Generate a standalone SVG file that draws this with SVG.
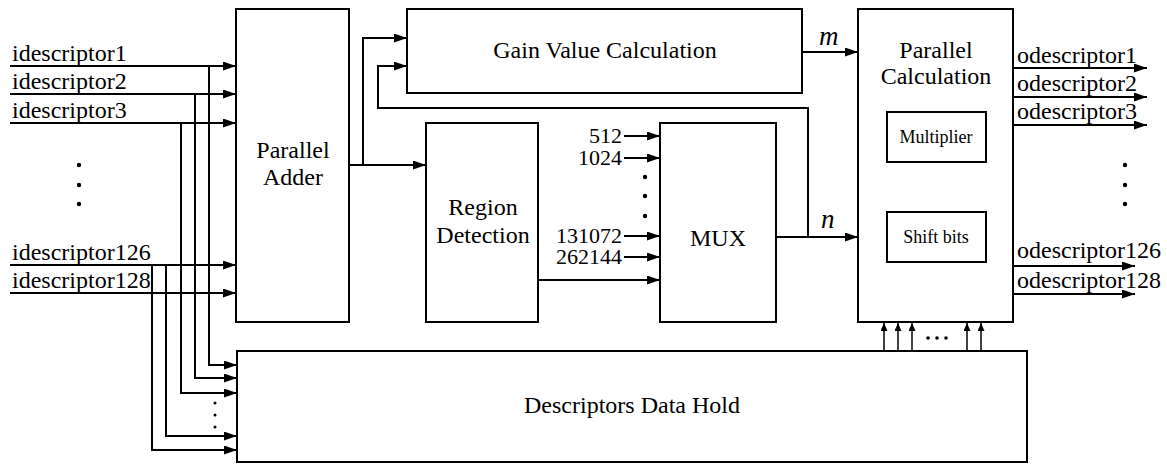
<svg xmlns="http://www.w3.org/2000/svg" width="1167" height="464" viewBox="0 0 1167 464">
  <style>
    text { font-family: "Liberation Serif", "Times New Roman", serif; fill: #000; }
    .lbl { font-family: "Liberation Serif", "Times New Roman", serif; font-size: 24px; }
    .num { font-family: "Liberation Serif", "Times New Roman", serif; font-size: 22px; }
    .mid { text-anchor: middle; }
    .end { text-anchor: end; }
    .small { font-family: "Liberation Serif", "Times New Roman", serif; font-size: 18px; }
    .var { font-family: "Liberation Serif", "Times New Roman", serif; font-size: 27px; font-style: italic; }
    .box { fill: #fff; stroke: #000; stroke-width: 2; }
    .wire { fill: none; stroke: #000; stroke-width: 2; }
    .thin { fill: none; stroke: #000; stroke-width: 1.5; }
  </style>
  <defs>
    <marker id="arr" markerUnits="userSpaceOnUse" markerWidth="13" markerHeight="9" refX="13" refY="4.5" orient="auto">
      <path d="M0,0 L13,4.5 L0,9 z" fill="#000"/>
    </marker>
    <marker id="arrS" markerUnits="userSpaceOnUse" markerWidth="8" markerHeight="8" refX="8" refY="3.5" orient="auto">
      <path d="M0,0 L8,3.5 L0,7 z" fill="#000"/>
    </marker>
  </defs>

  <rect width="1167" height="464" fill="#fff"/>

  <!-- connectors -->
  <g id="connectors">
    <!-- inputs into the adder -->
    <line class="wire" x1="10" y1="66" x2="236" y2="66" marker-end="url(#arr)"/>
    <line class="wire" x1="10" y1="94" x2="236" y2="94" marker-end="url(#arr)"/>
    <line class="wire" x1="10" y1="123" x2="236" y2="123" marker-end="url(#arr)"/>
    <line class="wire" x1="10" y1="265" x2="236" y2="265" marker-end="url(#arr)"/>
    <line class="wire" x1="10" y1="293" x2="236" y2="293" marker-end="url(#arr)"/>
    <!-- taps down to the data hold -->
    <polyline class="wire" points="209,66 209,365 237,365" marker-end="url(#arr)"/>
    <polyline class="wire" points="195,94 195,378 237,378" marker-end="url(#arr)"/>
    <polyline class="wire" points="181,123 181,393 237,393" marker-end="url(#arr)"/>
    <polyline class="wire" points="166,265 166,436 237,436" marker-end="url(#arr)"/>
    <polyline class="wire" points="152,265 152,450 237,450" marker-end="url(#arr)"/>
    <!-- adder output -->
    <line class="wire" x1="349" y1="165" x2="426" y2="165" marker-end="url(#arr)"/>
    <polyline class="wire" points="363,165 363,38 407,38" marker-end="url(#arr)"/>
    <!-- n fed back to gain calculation -->
    <polyline class="wire" points="808,237 808,108 378,108 378,66 407,66" marker-end="url(#arr)"/>
    <!-- MUX constant inputs -->
    <line class="wire" x1="624" y1="136" x2="660" y2="136" marker-end="url(#arr)"/>
    <line class="wire" x1="624" y1="158" x2="660" y2="158" marker-end="url(#arr)"/>
    <line class="wire" x1="624" y1="236" x2="660" y2="236" marker-end="url(#arr)"/>
    <line class="wire" x1="624" y1="257" x2="660" y2="257" marker-end="url(#arr)"/>
    <line class="wire" x1="538" y1="280" x2="660" y2="280" marker-end="url(#arr)"/>
    <!-- m and n -->
    <line class="wire" x1="802" y1="52" x2="858" y2="52" marker-end="url(#arr)"/>
    <line class="wire" x1="776" y1="237" x2="858" y2="237" marker-end="url(#arr)"/>
    <!-- outputs -->
    <line class="wire" x1="1013" y1="68" x2="1147" y2="68" marker-end="url(#arr)"/>
    <line class="wire" x1="1013" y1="97" x2="1147" y2="97" marker-end="url(#arr)"/>
    <line class="wire" x1="1013" y1="125" x2="1147" y2="125" marker-end="url(#arr)"/>
    <line class="wire" x1="1013" y1="266" x2="1135" y2="266" marker-end="url(#arr)"/>
    <line class="wire" x1="1013" y1="294" x2="1135" y2="294" marker-end="url(#arr)"/>
    <!-- data hold up into parallel calculation -->
    <line class="thin" x1="884" y1="351" x2="884" y2="323" marker-end="url(#arrS)"/>
    <line class="thin" x1="898" y1="351" x2="898" y2="323" marker-end="url(#arrS)"/>
    <line class="thin" x1="912" y1="351" x2="912" y2="323" marker-end="url(#arrS)"/>
    <line class="thin" x1="967" y1="351" x2="967" y2="323" marker-end="url(#arrS)"/>
    <line class="thin" x1="981" y1="351" x2="981" y2="323" marker-end="url(#arrS)"/>
  </g>

  <!-- ellipsis dots -->
  <g id="dots" fill="#000">
    <circle cx="79" cy="165" r="2.2"/><circle cx="79" cy="185" r="2.2"/><circle cx="79" cy="204" r="2.2"/>
    <circle cx="1125" cy="165" r="2.2"/><circle cx="1125" cy="185" r="2.2"/><circle cx="1125" cy="204" r="2.2"/>
    <circle cx="645" cy="177" r="2.2"/><circle cx="645" cy="196" r="2.2"/><circle cx="645" cy="216" r="2.2"/>
    <circle cx="215" cy="403" r="1.5"/><circle cx="215" cy="415" r="1.5"/><circle cx="215" cy="427" r="1.5"/>
    <circle cx="928" cy="338" r="1.8"/><circle cx="937" cy="338" r="1.8"/><circle cx="946" cy="338" r="1.8"/>
  </g>

  <!-- input labels -->
  <g id="inputs">
    <text class="lbl" x="12" y="61">idescriptor1</text>
    <text class="lbl" x="12" y="89">idescriptor2</text>
    <text class="lbl" x="12" y="118">idescriptor3</text>
    <text class="lbl" x="12" y="260">idescriptor126</text>
    <text class="lbl" x="12" y="288">idescriptor128</text>
  </g>

  <g id="parallel-adder">
    <rect class="box" x="236" y="9" width="113" height="313"/>
    <text class="lbl mid" x="293" y="158">Parallel</text>
    <text class="lbl mid" x="293" y="185">Adder</text>
  </g>

  <g id="gain-value-calculation">
    <rect class="box" x="407" y="9" width="395" height="84"/>
    <text class="lbl mid" x="605" y="58">Gain Value Calculation</text>
  </g>

  <g id="region-detection">
    <rect class="box" x="426" y="123" width="112" height="199"/>
    <text class="lbl mid" x="483" y="215">Region</text>
    <text class="lbl mid" x="483" y="243">Detection</text>
  </g>

  <g id="mux-inputs">
    <text class="num end" x="622" y="143">512</text>
    <text class="num end" x="622" y="165">1024</text>
    <text class="num end" x="622" y="243">131072</text>
    <text class="num end" x="622" y="264">262144</text>
  </g>

  <g id="mux">
    <rect class="box" x="660" y="123" width="116" height="199"/>
    <text class="lbl mid" x="718" y="246">MUX</text>
  </g>

  <g id="signal-labels">
    <text class="var" x="819" y="45">m</text>
    <text class="var" x="821" y="228">n</text>
  </g>

  <g id="parallel-calculation">
    <rect class="box" x="858" y="9" width="155" height="313"/>
    <text class="lbl mid" x="936" y="58">Parallel</text>
    <text class="lbl mid" x="936" y="84">Calculation</text>
    <rect class="box" x="887" y="112" width="99" height="50"/>
    <text class="small mid" x="936" y="143">Multiplier</text>
    <rect class="box" x="887" y="212" width="99" height="50"/>
    <text class="small mid" x="936" y="243">Shift bits</text>
  </g>

  <g id="outputs">
    <text class="lbl" x="1017" y="63">odescriptor1</text>
    <text class="lbl" x="1017" y="91">odescriptor2</text>
    <text class="lbl" x="1017" y="119">odescriptor3</text>
    <text class="lbl" x="1017" y="258">odescriptor126</text>
    <text class="lbl" x="1017" y="288">odescriptor128</text>
  </g>

  <g id="descriptors-data-hold">
    <rect class="box" x="237" y="351" width="790" height="111"/>
    <text class="lbl mid" x="632" y="413">Descriptors Data Hold</text>
  </g>
</svg>
